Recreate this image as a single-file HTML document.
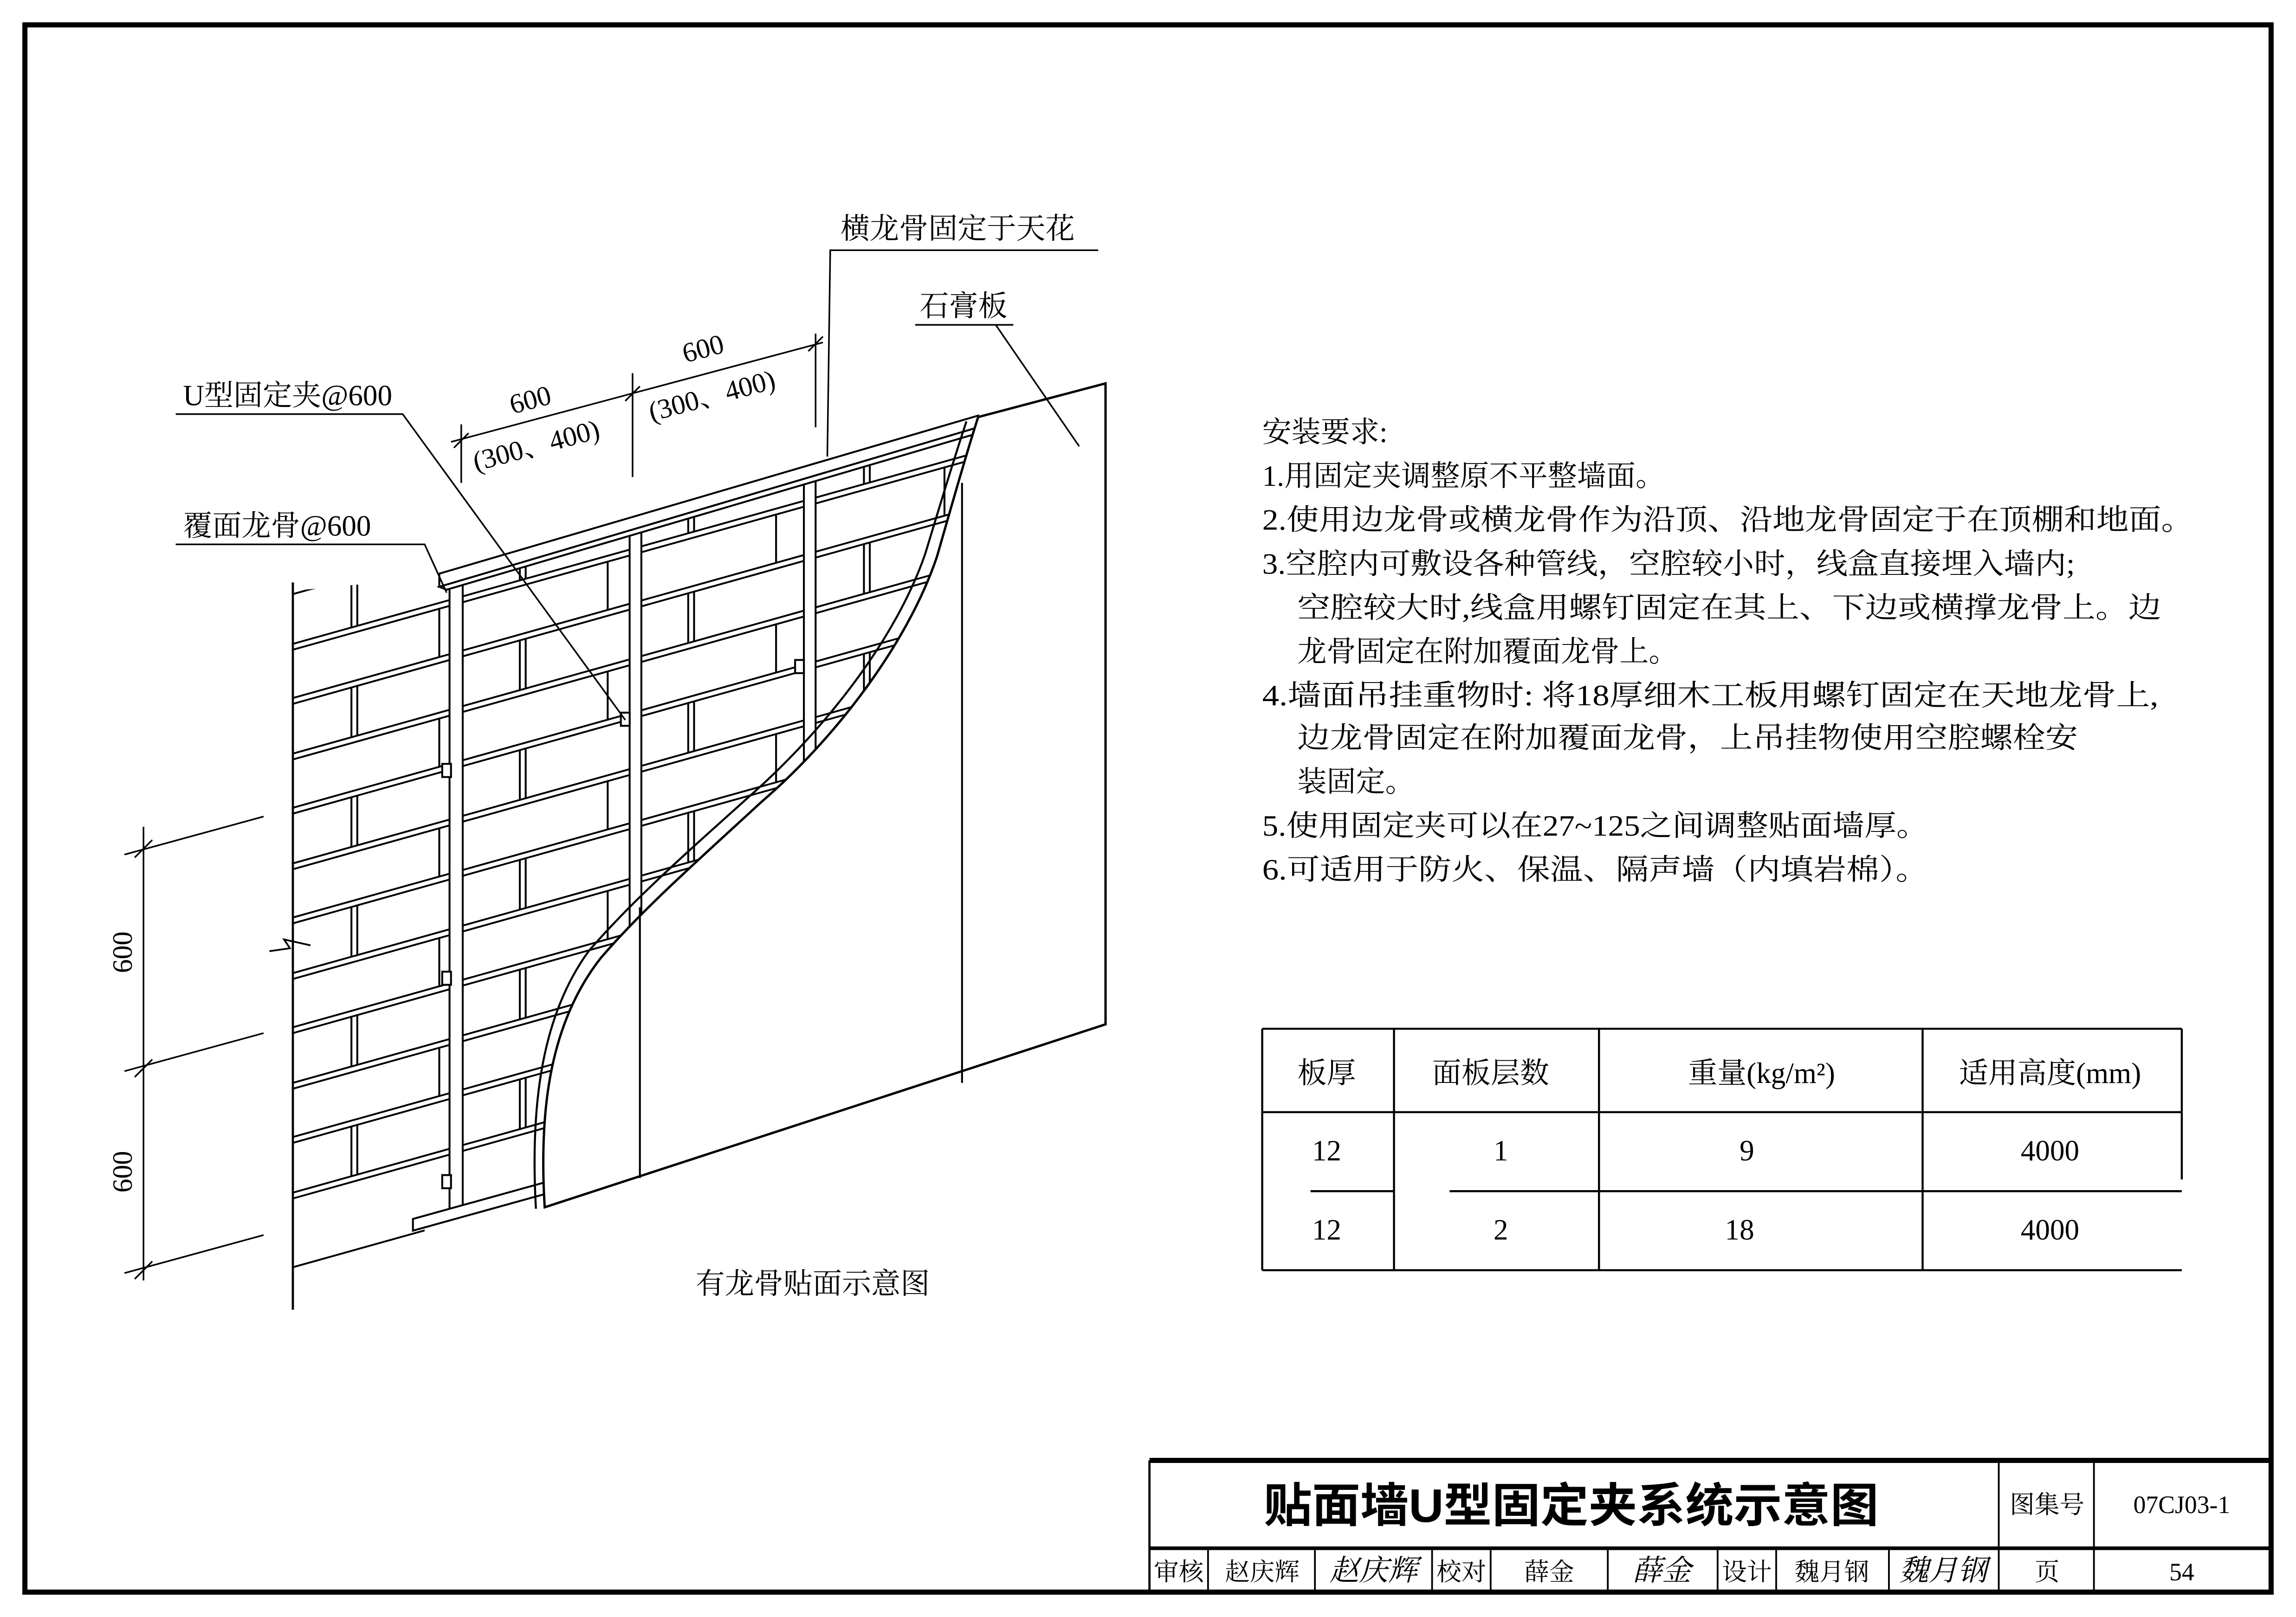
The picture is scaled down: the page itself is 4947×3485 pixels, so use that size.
<!DOCTYPE html>
<html><head><meta charset="utf-8"><style>
html,body{margin:0;padding:0;background:#fff;}
svg{display:block;}
text{font-family:"Liberation Serif","Noto Serif CJK SC","Noto Sans CJK SC",serif;fill:#000;}
</style></head><body>
<svg width="4947" height="3485" viewBox="0 0 1568 1105" preserveAspectRatio="none" xmlns="http://www.w3.org/2000/svg">
<defs>
<clipPath id="wc"><polygon points="198,404 300,394 668,286 754,262 754,905 198,905"/></clipPath>
</defs>
<rect x="0" y="0" width="1568" height="1105" fill="#fff"/>
<rect x="17" y="17" width="1534" height="1071" fill="none" stroke="#000" stroke-width="3.5"/>

<g clip-path="url(#wc)">
<g transform="translate(200,0) skewY(-15.64) translate(-200,0)" stroke="#000" stroke-width="1.3" fill="none">
    <line x1="200" y1="402" x2="760" y2="402"/><line x1="200" y1="406" x2="760" y2="406"/>
    <line x1="200" y1="440" x2="760" y2="440"/><line x1="200" y1="444" x2="760" y2="444"/>
    <line x1="200" y1="477" x2="760" y2="477"/><line x1="200" y1="481" x2="760" y2="481"/>
    <line x1="200" y1="515" x2="760" y2="515"/><line x1="200" y1="519" x2="760" y2="519"/>
    <line x1="200" y1="552" x2="760" y2="552"/><line x1="200" y1="556" x2="760" y2="556"/>
    <line x1="200" y1="590" x2="760" y2="590"/><line x1="200" y1="594" x2="760" y2="594"/>
    <line x1="200" y1="627" x2="760" y2="627"/><line x1="200" y1="631" x2="760" y2="631"/>
    <line x1="200" y1="665" x2="760" y2="665"/><line x1="200" y1="669" x2="760" y2="669"/>
    <line x1="200" y1="702" x2="760" y2="702"/><line x1="200" y1="706" x2="760" y2="706"/>
    <line x1="200" y1="740" x2="760" y2="740"/><line x1="200" y1="744" x2="760" y2="744"/>
    <line x1="200" y1="777" x2="760" y2="777"/><line x1="200" y1="781" x2="760" y2="781"/>
    <line x1="200" y1="815" x2="760" y2="815"/><line x1="200" y1="819" x2="760" y2="819"/>
    <line x1="200" y1="866" x2="290" y2="866"/>
  <path d="M240 406V440M355 406V440M470 406V440M590 406V440M700 406V440
           M300 444V477M415 444V477M530 444V477M645 444V477
           M240 481V515M355 481V515M470 481V515M590 481V515M700 481V515
           M300 519V552M415 519V552M530 519V552M645 519V552
           M240 556V590M355 556V590M470 556V590M590 556V590M700 556V590
           M300 594V627M415 594V627M530 594V627M645 594V627
           M240 631V665M355 631V665M470 631V665M590 631V665M700 631V665
           M300 669V702M415 669V702M530 669V702M645 669V702
           M240 706V740M355 706V740M470 706V740M590 706V740M700 706V740
           M300 744V777M415 744V777M530 744V777M645 744V777
           M240 781V815M355 781V815M470 781V815M590 781V815M700 781V815"/>
  <path d="M244 406V440M359 406V440M474 406V440M594 406V440
           M244 481V515M359 481V515M474 481V515M594 481V515
           M244 556V590M359 556V590M474 556V590M594 556V590
           M244 631V665M359 631V665M474 631V665M594 631V665
           M244 706V740M359 706V740M474 706V740M594 706V740
           M244 781V815M359 781V815M474 781V815M594 781V815"/>
</g>
</g>
<line x1="200" y1="398" x2="200" y2="895" stroke="#000" stroke-width="1.5"/>
<path d="M184 650 L198 648 L194 642 L212 646" fill="none" stroke="#000" stroke-width="1.2"/>

<g fill="#fff" stroke="#000" stroke-width="1.3">
  <rect x="307" y="398" width="9" height="432"/>
  <rect x="430" y="362" width="8" height="440"/>
  <rect x="549" y="328" width="8" height="200"/>
  <rect x="302" y="522" width="6" height="9"/>
  <rect x="302" y="664" width="6" height="9"/>
  <rect x="302" y="803" width="6" height="9"/>
  <rect x="424" y="487" width="6" height="9"/>
  <rect x="543" y="451" width="6" height="9"/>
  <polygon points="300,392 668,284 668,292 300,401"/>
  <polygon points="300,401 668,292 668,296 305,403"/>
  <polygon points="282,833 372,808 372,816 282,841"/>
</g>

<path d="M668,285 L755,262 L755,700 L372,825
         C368,760 375,700 410,655 C440,620 480,585 520,548
         C570,505 620,440 640,380 C650,345 660,310 668,285 Z"
      fill="#fff" stroke="#000" stroke-width="1.6"/>
<path d="M660,288 C652,312 642,345 632,378 C612,437 562,500 512,544 C472,580 432,615 402,650 C370,694 362,755 366,826"
      fill="none" stroke="#000" stroke-width="1.4"/>
<line x1="437" y1="620" x2="437" y2="805" stroke="#000" stroke-width="1.3"/>
<line x1="657" y1="330" x2="657" y2="740" stroke="#000" stroke-width="1.3"/>

<g stroke="#000" stroke-width="1.1" fill="none">
  <line x1="98" y1="565" x2="98" y2="875"/>
  <line x1="92" y1="586" x2="104" y2="574"/>
  <line x1="92" y1="736" x2="104" y2="724"/>
  <line x1="92" y1="874" x2="104" y2="862"/>
  <line x1="85" y1="584" x2="180" y2="558"/>
  <line x1="85" y1="732" x2="180" y2="706"/>
  <line x1="85" y1="870" x2="180" y2="844"/>
</g>
<text font-size="19" transform="translate(90,665) rotate(-90)">600</text>
<text font-size="19" transform="translate(90,815) rotate(-90)">600</text>

<g stroke="#000" stroke-width="1.1" fill="none">
  <line x1="315" y1="290" x2="315" y2="330"/>
  <line x1="432" y1="255" x2="432" y2="326"/>
  <line x1="557" y1="228" x2="557" y2="292"/>
  <line x1="308" y1="302" x2="562" y2="234"/>
  <line x1="310" y1="306" x2="320" y2="296"/>
  <line x1="427" y1="274" x2="437" y2="264"/>
  <line x1="552" y1="240" x2="562" y2="230"/>
</g>
<text font-size="19" transform="translate(350,283) rotate(-15)">600</text>
<text font-size="19" transform="translate(325,322) rotate(-15)">(300、400)</text>
<text font-size="19" transform="translate(468,248) rotate(-15)">600</text>
<text font-size="19" transform="translate(445,288) rotate(-15)">(300、400)</text>

<g stroke="#000" stroke-width="1.1" fill="none">
  <polyline points="750,171 567,171 565,312"/>
  <polyline points="692,222 625,222"/>
  <line x1="680" y1="222" x2="737" y2="305"/>
  <polyline points="120,283 275,283 427,492"/>
  <polyline points="120,372 290,372 305,405"/>
</g>
<text x="574" y="163" font-size="20">横龙骨固定于天花</text>
<text x="628" y="216" font-size="20">石膏板</text>
<text x="125" y="277" font-size="20">U型固定夹@600</text>
<text x="125" y="366" font-size="20">覆面龙骨@600</text>
<text x="475" y="884" font-size="20">有龙骨贴面示意图</text>

<g font-size="20">
<text x="862" y="302">安装要求:</text>
<text x="862" y="332">1.用固定夹调整原不平整墙面。</text>
<text x="862" y="362" textLength="636" lengthAdjust="spacingAndGlyphs">2.使用边龙骨或横龙骨作为沿顶、沿地龙骨固定于在顶棚和地面。</text>
<text x="862" y="392" textLength="555" lengthAdjust="spacingAndGlyphs">3.空腔内可敷设各种管线，空腔较小时，线盒直接埋入墙内;</text>
<text x="886" y="422" textLength="590" lengthAdjust="spacingAndGlyphs">空腔较大时,线盒用螺钉固定在其上、下边或横撑龙骨上。边</text>
<text x="886" y="452">龙骨固定在附加覆面龙骨上。</text>
<text x="862" y="482" textLength="612" lengthAdjust="spacingAndGlyphs">4.墙面吊挂重物时: 将18厚细木工板用螺钉固定在天地龙骨上,</text>
<text x="886" y="511" textLength="533" lengthAdjust="spacingAndGlyphs">边龙骨固定在附加覆面龙骨，上吊挂物使用空腔螺栓安</text>
<text x="886" y="541">装固定。</text>
<text x="862" y="571" textLength="455" lengthAdjust="spacingAndGlyphs">5.使用固定夹可以在27~125之间调整贴面墙厚。</text>
<text x="862" y="601" textLength="455" lengthAdjust="spacingAndGlyphs">6.可适用于防火、保温、隔声墙（内填岩棉）。</text>
</g>

<g stroke="#000" stroke-width="1.4" fill="none">
  <line x1="862" y1="703" x2="1490" y2="703"/>
  <line x1="862" y1="760" x2="1490" y2="760"/>
  <line x1="895" y1="814" x2="952" y2="814"/>
  <line x1="990" y1="814" x2="1490" y2="814"/>
  <line x1="862" y1="868" x2="1490" y2="868"/>
  <line x1="862" y1="703" x2="862" y2="868"/>
  <line x1="952" y1="703" x2="952" y2="868"/>
  <line x1="1092" y1="703" x2="1092" y2="868"/>
  <line x1="1313" y1="703" x2="1313" y2="868"/>
  <line x1="1490" y1="703" x2="1490" y2="806"/>
</g>
<g font-size="20" text-anchor="middle">
<text x="906" y="740">板厚</text>
<text x="1018" y="740">面板层数</text>
<text x="1203" y="740">重量(kg/m²)</text>
<text x="1400" y="740">适用高度(mm)</text>
<text x="906" y="793">12</text><text x="1025" y="793">1</text><text x="1193" y="793">9</text><text x="1400" y="793">4000</text>
<text x="906" y="847">12</text><text x="1025" y="847">2</text><text x="1188" y="847">18</text><text x="1400" y="847">4000</text>
</g>

<g stroke="#000" fill="none">
  <line x1="785" y1="998" x2="1551" y2="998" stroke-width="3.5"/>
  <line x1="785" y1="998" x2="785" y2="1088" stroke-width="1.5"/>
  <line x1="785" y1="1058" x2="1551" y2="1058" stroke-width="2.5"/>
  <g stroke-width="1.2">
  <line x1="1365" y1="998" x2="1365" y2="1088"/>
  <line x1="1430" y1="998" x2="1430" y2="1088"/>
  <line x1="825" y1="1058" x2="825" y2="1088"/>
  <line x1="898" y1="1058" x2="898" y2="1088"/>
  <line x1="978" y1="1058" x2="978" y2="1088"/>
  <line x1="1018" y1="1058" x2="1018" y2="1088"/>
  <line x1="1098" y1="1058" x2="1098" y2="1088"/>
  <line x1="1173" y1="1058" x2="1173" y2="1088"/>
  <line x1="1213" y1="1058" x2="1213" y2="1088"/>
  <line x1="1290" y1="1058" x2="1290" y2="1088"/>
  </g>
</g>
<text x="1073" y="1040" font-size="32" font-weight="bold" text-anchor="middle" textLength="420" lengthAdjust="spacingAndGlyphs" style="font-family:'Liberation Sans','Noto Sans CJK SC',sans-serif">贴面墙U型固定夹系统示意图</text>
<g font-size="17" text-anchor="middle">
<text x="1398" y="1034">图集号</text>
<text x="1490" y="1034">07CJ03-1</text>
<text x="805" y="1080">审核</text>
<text x="862" y="1080">赵庆辉</text>
<text x="938" y="1080" font-style="italic" font-size="20">赵庆辉</text>
<text x="998" y="1080">校对</text>
<text x="1058" y="1080">薛金</text>
<text x="1135" y="1080" font-style="italic" font-size="20">薛金</text>
<text x="1193" y="1080">设计</text>
<text x="1251" y="1080">魏月钢</text>
<text x="1327" y="1080" font-style="italic" font-size="20">魏月钢</text>
<text x="1398" y="1080">页</text>
<text x="1490" y="1080">54</text>
</g>
</svg>
</body></html>
